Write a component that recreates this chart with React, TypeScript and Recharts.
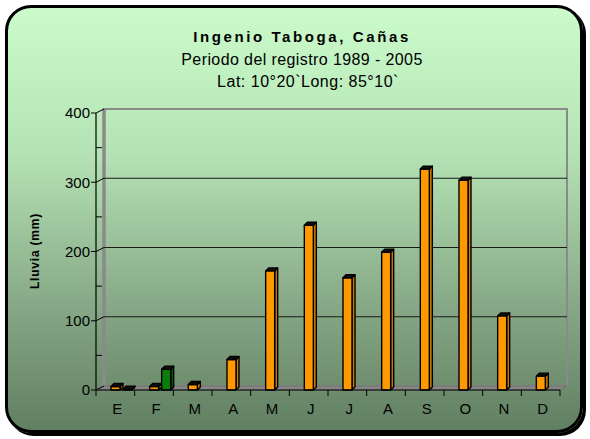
import React from "react";
import {
  BarChart,
  Bar,
  XAxis,
  YAxis,
  CartesianGrid,
} from "recharts";

const months = ["E", "F", "M", "A", "M", "J", "J", "A", "S", "O", "N", "D"];
const lluvia = [5, 5, 8, 44, 172, 238, 162, 199, 319, 303, 107, 20];
const serie2 = [1, 30, null, null, null, null, null, null, null, null, null, null];
const yTicks = [0, 50, 100, 150, 200, 250, 300, 350, 400];
const gridValues = [100, 200, 300];

const data = months.map((mes, i) => ({
  mes,
  lluvia: lluvia[i],
  serie2: serie2[i],
}));

const W = 590;
const H = 439;
const MARGIN = { top: 113, right: 30, bottom: 19, left: 56 };
const Y_W = 40;
const X_H = 30;
const PLOT_L = MARGIN.left + Y_W;
const PLOT_R = W - MARGIN.right;
const PLOT_B = H - MARGIN.bottom - X_H;
const BAR = 9;
const GAP = 3;
const SHIFT = (BAR + GAP) / 2;
const DEPTH = 3;
const FONT = '"Liberation Sans", Arial, sans-serif';

const Bar3D = (props: any) => {
  const { x, y, width, height, fill, sideFill } = props;
  if (x == null || !height) return null;
  const x0 = x + SHIFT;
  const d = DEPTH;
  return (
    <g stroke="#000" strokeWidth={1.4} strokeLinejoin="round">
      <polygon
        points={`${x0 + width},${y} ${x0 + width + d},${y - d} ${x0 + width + d},${y + height - d} ${x0 + width},${y + height}`}
        fill={sideFill}
      />
      <rect x={x0} y={y} width={width} height={height} fill={fill} />
      <polygon
        points={`${x0},${y} ${x0 + d},${y - d} ${x0 + width + d},${y - d} ${x0 + width},${y}`}
        fill="#111"
      />
    </g>
  );
};

const YTick = (props: any) => {
  const { x, y, payload } = props;
  const v = payload.value;
  if (v % 100 !== 0) {
    return <line x1={x} x2={x + 6} y1={y} y2={y} stroke="#000" />;
  }
  return (
    <g>
      <line x1={x - 5} x2={x} y1={y} y2={y} stroke="#000" />
      <line x1={x} x2={x + 8} y1={y} y2={y - 4} stroke="#000" />
      <text
        x={x - 6}
        y={y}
        dy="0.36em"
        textAnchor="end"
        fontSize={15}
        fontFamily={FONT}
        fill="#000"
      >
        {v}
      </text>
    </g>
  );
};

const XTick = (props: any) => {
  const { x, y, payload, index } = props;
  const bw = (PLOT_R - PLOT_L) / months.length;
  return (
    <g>
      <line x1={x - bw / 2} x2={x - bw / 2} y1={y} y2={y + 6} stroke="#000" />
      {index === months.length - 1 && (
        <line x1={x + bw / 2} x2={x + bw / 2} y1={y} y2={y + 6} stroke="#000" />
      )}
      <text
        x={x + 2}
        y={y + 24}
        textAnchor="middle"
        fontSize={15}
        fontFamily={FONT}
        fill="#000"
      >
        {payload.value}
      </text>
    </g>
  );
};

const GridLine = (props: any) => {
  const { x1, x2, y1 } = props;
  if (y1 <= MARGIN.top + 1 || y1 >= PLOT_B - 1) return <g />;
  return (
    <line
      x1={x1 + 8}
      x2={x2 + 7}
      y1={y1 - 4}
      y2={y1 - 4}
      stroke="#1a1a1a"
      strokeWidth={1.2}
    />
  );
};

export default function App() {
  return (
    <div style={{ position: "absolute", left: 0, top: 0, width: W, height: H }}>
      <div
        style={{
          position: "absolute",
          left: 5,
          top: 5,
          width: 578,
          height: 428,
          boxSizing: "border-box",
          border: "3px solid #000",
          borderRadius: 26,
          boxShadow: "3px 3px 0 #000",
          background: "linear-gradient(#cbfbcb 0%, #b4e2b4 35%, #87a987 70%, #617f61 100%)",
        }}
      />
      <svg
        width={W}
        height={H}
        style={{ position: "absolute", left: 0, top: 0 }}
        fontFamily={FONT}
      >
        <text x={302} y={42} textAnchor="middle" fontSize={15} fontWeight="bold" letterSpacing={2.6}>
          Ingenio Taboga, Cañas
        </text>
        <text x={302} y={65} textAnchor="middle" fontSize={16} letterSpacing={0.4}>
          Periodo del registro 1989 - 2005
        </text>
        <text x={308} y={87} textAnchor="middle" fontSize={16} letterSpacing={0.5}>
          Lat: 10°20`Long: 85°10`
        </text>
        <text
          x={0}
          y={0}
          transform={`translate(39, 251) rotate(-90)`}
          textAnchor="middle"
          fontSize={12}
          fontWeight="bold"
          letterSpacing={0.8}
        >
          Lluvia (mm)
        </text>
        <rect
          x={PLOT_L + 8}
          y={MARGIN.top - 4}
          width={PLOT_R - PLOT_L - 1}
          height={PLOT_B - MARGIN.top}
          fill="none"
          stroke="#8a8a8a"
          strokeWidth={2}
        />
        <line
          x1={PLOT_L + 8}
          x2={PLOT_L + 8}
          y1={MARGIN.top - 4}
          y2={PLOT_B - 4}
          stroke="#8a8a8a"
          strokeWidth={3.5}
        />
        <polygon
          points={`${PLOT_L},${PLOT_B} ${PLOT_L + 8},${PLOT_B - 4} ${PLOT_R + 7},${PLOT_B - 4} ${PLOT_R},${PLOT_B}`}
          fill="#868686"
          stroke="#6e6e6e"
        />
      </svg>
      <div style={{ position: "absolute", left: 0, top: 0 }}>
        <BarChart
          width={W}
          height={H}
          data={data}
          margin={MARGIN}
          barSize={BAR}
          barGap={GAP}
        >
          <CartesianGrid
            vertical={false}
            horizontal={GridLine}
            horizontalValues={gridValues}
          />
          <XAxis
            dataKey="mes"
            height={X_H}
            axisLine={{ stroke: "#000", strokeWidth: 1.2 }}
            tickLine={false}
            tickSize={0}
            tickMargin={0}
            interval={0}
            tick={XTick}
          />
          <YAxis
            width={Y_W}
            domain={[0, 400]}
            ticks={yTicks}
            interval={0}
            axisLine={{ stroke: "#000", strokeWidth: 1.2 }}
            tickLine={false}
            tickSize={0}
            tickMargin={0}
            tick={YTick}
          />
          <Bar
            dataKey="lluvia"
            fill="#ff9900"
            isAnimationActive={false}
            shape={(p: any) => <Bar3D {...p} sideFill="#cf7a00" />}
          />
          <Bar
            dataKey="serie2"
            fill="#0b7d0b"
            isAnimationActive={false}
            shape={(p: any) => <Bar3D {...p} sideFill="#065406" />}
          />
        </BarChart>
      </div>
    </div>
  );
}
